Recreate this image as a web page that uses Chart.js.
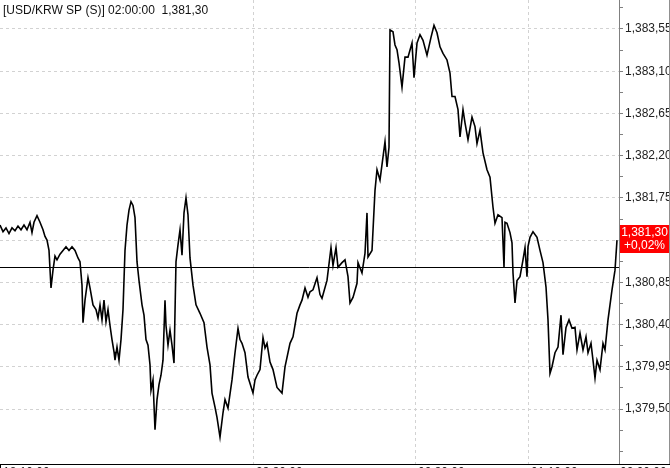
<!DOCTYPE html>
<html><head><meta charset="utf-8">
<script src="https://cdn.jsdelivr.net/npm/chart.js@4.4.1/dist/chart.umd.min.js"></script>
<style>html,body{margin:0;padding:0;background:#fff;overflow:hidden}canvas{display:block}</style>
</head><body><canvas id="c" width="670" height="468"></canvas>
<script>
const titleText = '[USD/KRW SP (S)] 02:00:00  1,381,30';
const lastValue = 1381.30;
const changeText = '+0,02%';
const prevClose = 1381.01;
const xTickPositions = [0, 253, 415, 528, 617];
const xTickLabels = ['18:10:00', '23:30:00', '00:30:00', '01:10:00', '02:00:00'];
const yTicks = [1379.50, 1379.95, 1380.40, 1380.85, 1381.30, 1381.75, 1382.20, 1382.65, 1383.10, 1383.55];
const yMin = 1378.914, yMax = 1383.859;
const minutes = [0,3,6,9,12,15,18,21,24,27,30,32,34,37,40,43,45,47,49,51,53,55,57,60,63,66,69,72,75,78,80,82,83,85,88,90,93,96,98,100,102,104,106,108,110,112,114,115,117,119,121,123,125,127,129,131,133,135,137,139,142,144,146,148,150,151,153,155,157,159,161,163,165,166,168,170,172,174,176,178,180,182,184,186,188,190,193,196,200,204,207,210,212,215,217,220,223,225,228,232,235,238,240,242,245,248,253,255,257,260,263,265,267,270,273,277,282,285,290,293,297,300,302,305,308,310,313,317,320,322,327,331,333,336,338,342,345,348,350,353,357,358,362,365,367,368,372,375,377,380,385,387,389,390,393,395,397,399,402,405,408,412,414,417,420,423,427,431,434,437,440,443,447,450,452,455,458,460,463,465,468,472,475,477,480,483,487,490,493,495,498,502,504,505,507,510,512,513,515,517,520,523,525,527,528,530,533,537,540,543,546,548,550,552,555,558,561,563,566,569,572,575,577,580,583,586,588,591,593,595,597,600,603,605,608,612,615,617];
const prices = [1381.46,1381.39,1381.43,1381.37,1381.43,1381.40,1381.45,1381.41,1381.46,1381.41,1381.49,1381.38,1381.49,1381.56,1381.49,1381.41,1381.34,1381.30,1381.19,1380.79,1380.98,1381.13,1381.09,1381.15,1381.19,1381.23,1381.19,1381.23,1381.19,1381.11,1381.07,1380.82,1380.42,1380.66,1380.90,1380.79,1380.61,1380.56,1380.47,1380.61,1380.45,1380.66,1380.43,1380.56,1380.39,1380.24,1380.11,1380.02,1380.16,1380.02,1380.24,1380.56,1381.19,1381.46,1381.62,1381.71,1381.67,1381.54,1381.07,1380.87,1380.61,1380.50,1380.24,1380.18,1379.97,1379.70,1379.81,1379.28,1379.60,1379.76,1379.86,1380.02,1380.66,1380.39,1380.18,1380.34,1380.18,1379.99,1381.07,1381.25,1381.41,1381.14,1381.59,1381.75,1381.57,1381.11,1380.82,1380.61,1380.52,1380.42,1380.16,1379.97,1379.67,1379.52,1379.41,1379.20,1379.46,1379.60,1379.51,1379.81,1380.10,1380.36,1380.24,1380.20,1380.10,1379.84,1379.67,1379.81,1379.86,1379.92,1380.26,1380.15,1380.20,1380.00,1379.92,1379.73,1379.67,1379.95,1380.20,1380.27,1380.52,1380.61,1380.66,1380.79,1380.69,1380.75,1380.77,1380.90,1380.72,1380.68,1380.87,1381.22,1381.03,1381.22,1381.01,1381.06,1381.09,1380.91,1380.63,1380.69,1380.84,1381.06,1380.95,1381.16,1381.59,1381.12,1381.19,1381.83,1382.05,1381.94,1382.35,1382.08,1382.29,1383.54,1383.52,1383.38,1383.33,1383.19,1382.93,1383.25,1383.25,1383.40,1383.03,1383.40,1383.49,1383.43,1383.27,1383.46,1383.59,1383.51,1383.36,1383.29,1383.22,1383.08,1382.83,1382.83,1382.69,1382.40,1382.69,1382.55,1382.37,1382.61,1382.51,1382.33,1382.47,1382.23,1382.05,1381.97,1381.65,1381.48,1381.57,1381.54,1381.01,1381.49,1381.48,1381.38,1381.27,1380.95,1380.63,1380.87,1380.91,1381.09,1381.22,1380.91,1381.23,1381.33,1381.39,1381.33,1381.19,1381.06,1380.80,1380.45,1379.88,1379.95,1380.10,1380.16,1380.50,1380.08,1380.37,1380.45,1380.36,1380.37,1380.13,1380.31,1380.13,1380.27,1380.10,1380.20,1380.02,1379.83,1380.02,1379.92,1380.20,1380.13,1380.45,1380.77,1380.98,1381.30];

const FONT = '"Liberation Sans", Arial, sans-serif';
function fmt(v) {
  const s = v.toFixed(2);
  const parts = s.split('.');
  return parts[0].replace(/\B(?=(\d{3})+(?!\d))/g, ',') + ',' + parts[1];
}
function isMajor(v) { return yTicks.some(t => Math.abs(t - v) < 1e-6); }
const allYTicks = [];
yTicks.forEach((t) => {
  allYTicks.push(t);
  allYTicks.push(t + 0.225);
});
allYTicks.unshift(yTicks[0] - 0.225, yTicks[0] - 0.45);

const overlay = {
  id: 'overlay',
  beforeDatasetsDraw(chart) {
    const ctx = chart.ctx, a = chart.chartArea, y = chart.scales.y;
    const py = Math.round(y.getPixelForValue(prevClose)) + 0.5;
    ctx.save();
    ctx.strokeStyle = '#000'; ctx.lineWidth = 1;
    ctx.beginPath(); ctx.moveTo(a.left, py); ctx.lineTo(a.right, py); ctx.stroke();
    ctx.restore();
  },
  afterDraw(chart) {
    const ctx = chart.ctx, a = chart.chartArea, y = chart.scales.y, x = chart.scales.x;
    ctx.save();
    ctx.font = '12px ' + FONT; ctx.fillStyle = '#111'; ctx.textBaseline = 'middle'; ctx.textAlign = 'left';
    ctx.fillText(titleText, 3, 11);
    ctx.strokeStyle = '#909090'; ctx.lineWidth = 1;
    ctx.beginPath(); ctx.moveTo(669.5, 0); ctx.lineTo(669.5, a.bottom); ctx.stroke();
    ctx.strokeStyle = '#000';
    ctx.beginPath(); ctx.moveTo(0, a.bottom + 0.5); ctx.lineTo(670, a.bottom + 0.5); ctx.stroke();
    ctx.beginPath(); ctx.moveTo(0.5, a.bottom); ctx.lineTo(0.5, 468); ctx.stroke();
    ctx.fillStyle = '#222'; ctx.textBaseline = 'top'; ctx.textAlign = 'left';
    xTickPositions.forEach((v, i) => {
      ctx.fillText(xTickLabels[i], x.getPixelForValue(v) + 3, a.bottom + 3);
    });
    const py = y.getPixelForValue(lastValue);
    const bx = a.right + 1, bw = 669 - bx, by = Math.round(py - 15), bh = 28;
    ctx.fillStyle = '#ff0000'; ctx.fillRect(bx, by, bw, bh);
    ctx.fillStyle = '#fff'; ctx.textAlign = 'center'; ctx.textBaseline = 'middle';
    ctx.fillText(fmt(lastValue), bx + bw / 2, by + 8);
    ctx.fillText(changeText, bx + bw / 2, by + 21);
    ctx.restore();
  }
};

new Chart(document.getElementById('c'), {
  type: 'line',
  data: {
    datasets: [{
      data: minutes.map((m, i) => ({ x: m, y: prices[i] })),
      borderColor: '#000', borderWidth: 1.6, pointRadius: 0, tension: 0, fill: false
    }]
  },
  options: {
    responsive: false, animation: false, devicePixelRatio: 1,
    layout: { padding: 0 },
    plugins: { legend: { display: false }, tooltip: { enabled: false } },
    scales: {
      x: {
        type: 'linear', min: 0, max: 619,
        afterBuildTicks(s) { s.ticks = xTickPositions.slice(1, 4).map(v => ({ value: v })); },
        afterFit(s) { s.height = 4; s.paddingLeft = 0; s.paddingRight = 0; s.paddingTop = 0; s.paddingBottom = 0; },
        ticks: { display: false },
        grid: { color: '#d2d2d2', lineWidth: 1, drawTicks: false },
        border: { display: false, dash: [3, 3] }
      },
      y: {
        position: 'right', min: yMin, max: yMax,
        afterBuildTicks(s) { s.ticks = allYTicks.map(v => ({ value: v })); },
        afterFit(s) { s.width = 51; s.paddingTop = 0; s.paddingBottom = 0; s.paddingLeft = 0; s.paddingRight = 0; },
        ticks: {
          padding: 2, color: '#222', font: { family: FONT, size: 12 },
          callback: (v) => isMajor(v) ? fmt(v) : ''
        },
        grid: {
          color: (c) => (c.tick && isMajor(c.tick.value)) ? '#d2d2d2' : 'rgba(0,0,0,0)',
          lineWidth: 1, drawTicks: true, tickLength: 4, tickColor: '#808080', tickBorderDash: []
        },
        border: { display: true, color: '#808080', width: 1, dash: [3, 3] }
      }
    }
  },
  plugins: [overlay]
});
</script></body></html>
